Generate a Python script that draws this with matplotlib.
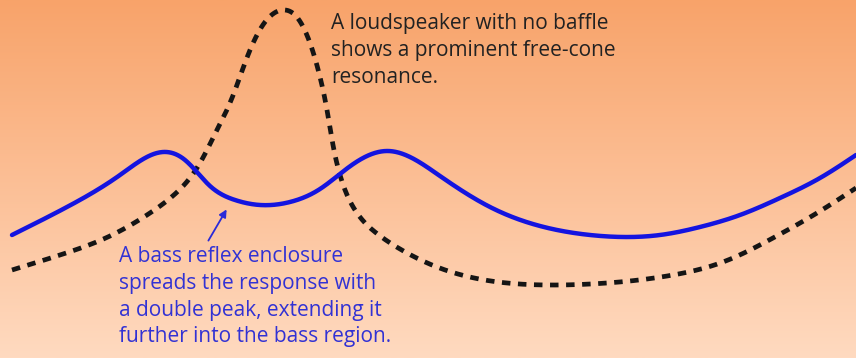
import numpy as np
import matplotlib.pyplot as plt
from matplotlib.colors import LinearSegmentedColormap

# response curves (x across, y = pixel row from top)
reflex_x = [12, 67, 120, 145, 163, 185, 210, 235, 260, 290, 320, 345, 367, 388, 410,
            440, 490, 540, 590, 623, 660, 700, 740, 780, 820, 856]
reflex_y = [235, 207, 175, 158, 152, 160, 186, 200, 205, 202, 189, 170, 156, 151, 157,
            176, 207, 226, 235, 237, 235, 227, 215, 198, 178, 155]

nobaffle_x = [12, 60, 110, 150, 175, 200, 215, 232, 248, 265, 283, 295, 310, 320, 327,
              333, 340, 355, 375, 400, 437, 507, 557, 607, 673, 723, 773, 817, 856]
nobaffle_y = [270, 255, 236, 213, 194, 163, 134, 98, 55, 22, 10, 15, 43, 77, 110,
              145, 175, 210, 232, 249, 267, 283, 285, 283, 275, 262, 238, 213, 188]

txt_speaker = "A loudspeaker with no baffle\nshows a prominent free-cone\nresonance."
txt_reflex = ("A bass reflex enclosure\nspreads the response with\n"
              "a double peak, extending it\nfurther into the bass region.")

fig = plt.figure(figsize=(8.56, 3.58), dpi=100)
ax = fig.add_axes([0, 0, 1, 1])

# orange background gradient
bg = LinearSegmentedColormap.from_list("bg", ["#f8a36a", "#ffdac0"])
grad = np.linspace(0, 1, 256).reshape(-1, 1)
ax.imshow(grad, cmap=bg, aspect="auto", extent=[0, 856, 358, 0], zorder=0)


def spline(xs, ys, n=1500):
    # natural cubic spline through the read points
    x = np.asarray(xs, float)
    y = np.asarray(ys, float)
    h = np.diff(x)
    N = len(x)
    A = np.zeros((N, N))
    r = np.zeros(N)
    A[0, 0] = A[-1, -1] = 1
    for i in range(1, N - 1):
        A[i, i - 1] = h[i - 1]
        A[i, i] = 2 * (h[i - 1] + h[i])
        A[i, i + 1] = h[i]
        r[i] = 6 * ((y[i + 1] - y[i]) / h[i] - (y[i] - y[i - 1]) / h[i - 1])
    M = np.linalg.solve(A, r)
    xx = np.linspace(x[0], x[-1], n)
    k = np.clip(np.searchsorted(x, xx) - 1, 0, N - 2)
    a = x[k + 1] - xx
    b = xx - x[k]
    yy = (M[k] * a ** 3 / (6 * h[k]) + M[k + 1] * b ** 3 / (6 * h[k])
          + (y[k] / h[k] - M[k] * h[k] / 6) * a + (y[k + 1] / h[k] - M[k + 1] * h[k] / 6) * b)
    return xx, yy


bx, by = spline(nobaffle_x, nobaffle_y)
ax.plot(bx, by, color="#151515", lw=3.4, linestyle=(0, (1.8, 1.6)), zorder=2)

rx, ry = spline(reflex_x, reflex_y)
ax.plot(rx, ry, color="#1414e0", lw=3.2, solid_capstyle="round", zorder=3)

ax.text(331, 13, txt_speaker, fontsize=15, family="Open Sans", color="#222222",
        va="top", ha="left", linespacing=1.36, zorder=4)
ax.text(119, 246, txt_reflex, fontsize=15, family="Open Sans", color="#3232d4",
        va="top", ha="left", linespacing=1.36, zorder=4)
ax.annotate("", xy=(228, 207), xytext=(207, 243),
            arrowprops=dict(arrowstyle="-|>", color="#2a2ad8", lw=1.3, mutation_scale=11),
            zorder=4)

ax.set_xlim(0, 856)
ax.set_ylim(358, 0)
ax.axis("off")

fig.savefig("out.png", dpi=100)
